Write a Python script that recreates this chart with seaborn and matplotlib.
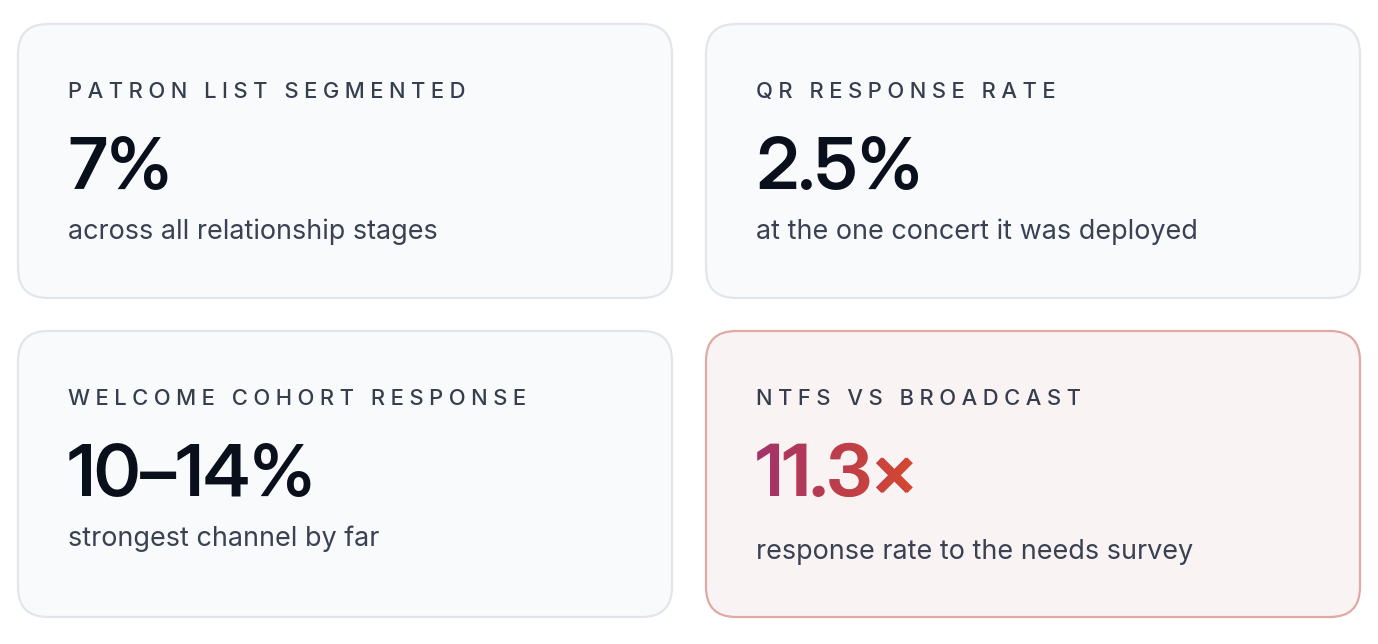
import numpy as np
import matplotlib
matplotlib.use("Agg")
import matplotlib.pyplot as plt
import seaborn as sns
from matplotlib import font_manager
from matplotlib.patches import FancyBboxPatch, PathPatch
from matplotlib.font_manager import FontProperties
from matplotlib.textpath import TextPath
from matplotlib.transforms import Affine2D

# ---- data ----
labels = ["PATRON LIST SEGMENTED", "QR RESPONSE RATE",
          "WELCOME COHORT RESPONSE", "NTFS VS BROADCAST"]
values = ["7%", "2.5%", "10\u201314%", "11.3\u00d7"]
subtitles = ["across all relationship stages",
             "at the one concert it was deployed",
             "strongest channel by far",
             "response rate to the needs survey"]
highlight = [False, False, False, True]

# ---- style ----
W, H, DPI = 1378, 644, 100
PT = 72 / DPI
sns.set_theme(style="white")
FAM = ['Inter', 'DejaVu Sans']
plt.rcParams['font.family'] = FAM

installed = {f.name for f in font_manager.fontManager.ttflist}
VAL_FAM = FAM
VALUE_PX = 72
for cand in ["Inter Display", "Inter Tight"]:
    if cand in installed:
        VAL_FAM = [cand, 'Inter', 'DejaVu Sans']
        break
else:
    VALUE_PX = 70

CARD_BG, CARD_EDGE = "#f9fafc", "#e2e6ec"
HI_BG, HI_EDGE = "#faf3f3", "#dfaaa4"
LABEL_C, VALUE_C, SUB_C = "#363e4e", "#0a0f1c", "#394152"
grad_cmap = sns.blend_palette(["#a1336c", "#d6492e"], as_cmap=True)

fig = plt.figure(figsize=(W / DPI, H / DPI), dpi=DPI)
fig.patch.set_facecolor("white")
ax = fig.add_axes([0, 0, 1, 1])
ax.set_xlim(0, W)
ax.set_ylim(H, 0)
ax.axis("off")

col_x = [18, 706]
row_y = [24, 331]
row_h = [274, 286]
card_w = 654
pad = 50

LABEL_PX, SUB_PX = 22, 27


def spaced(s):
    # CSS-like letter-spacing (~0.25em) between every character
    return "\u2005".join(s)


for i, (lab, val, sub, hi) in enumerate(zip(labels, values, subtitles, highlight)):
    r, c = divmod(i, 2)
    x0, y0, h = col_x[c], row_y[r], row_h[r]
    card = FancyBboxPatch((x0, y0), card_w, h,
                          boxstyle="round,pad=0,rounding_size=30",
                          facecolor=HI_BG if hi else CARD_BG,
                          edgecolor=HI_EDGE if hi else CARD_EDGE,
                          linewidth=1.6, zorder=1)
    ax.add_patch(card)
    tx = x0 + pad
    ax.text(tx, y0 + 74, spaced(lab), fontsize=LABEL_PX * PT, color=LABEL_C,
            fontweight="medium", va="baseline", ha="left", zorder=3)
    vy = y0 + 165
    if not hi:
        ax.text(tx, vy, val, fontsize=VALUE_PX * PT, color=VALUE_C,
                family=VAL_FAM, fontweight="semibold", va="baseline",
                ha="left", zorder=3)
        sy = y0 + 215
    else:
        ax.text(tx, vy, val, fontsize=VALUE_PX * PT, color="#c03e4a",
                family=VAL_FAM, fontweight="semibold", va="baseline",
                ha="left", zorder=3)
        fp = FontProperties(family=VAL_FAM, weight="semibold")
        tp = TextPath((0, 0), val, size=VALUE_PX, prop=fp)
        trans = Affine2D().scale(1, -1).translate(tx, vy) + ax.transData
        clip = PathPatch(tp, transform=trans, facecolor="none",
                         edgecolor="none")
        ax.add_patch(clip)
        ext = tp.get_extents()
        grad = np.linspace(0, 1, 256).reshape(1, -1)
        im = ax.imshow(grad, cmap=grad_cmap, aspect="auto",
                       extent=[tx + ext.x0 - 2, tx + ext.x1 + 2,
                               vy + 20, vy - VALUE_PX],
                       zorder=4, interpolation="bilinear")
        im.set_clip_path(clip)
        sy = y0 + 228
    ax.text(tx, sy, sub, fontsize=SUB_PX * PT, color=SUB_C,
            va="baseline", ha="left", zorder=3)

ax.set_xlim(0, W)
ax.set_ylim(H, 0)
fig.savefig("out.png", dpi=DPI, facecolor="white")
